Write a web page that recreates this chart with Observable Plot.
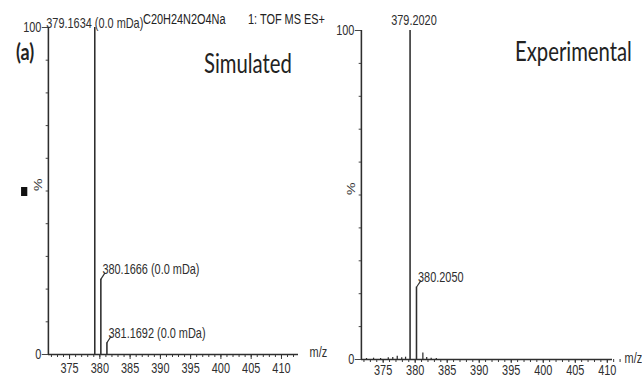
<!DOCTYPE html>
<html>
<head>
<meta charset="utf-8">
<script src="https://cdn.jsdelivr.net/npm/d3@7"></script>
<script src="https://cdn.jsdelivr.net/npm/@observablehq/plot@0.6"></script>
<style>
  html, body { margin: 0; padding: 0; background: #fff; overflow: hidden; }
  #page { position: relative; width: 642px; height: 380px; overflow: hidden; }
  /* the figure is laid out wide and then condensed horizontally */
  #wrap { position: absolute; left: 0; top: 0; height: 380px; transform-origin: 0 0; color: #222; }
  #wrap svg { position: absolute; left: 0; top: 0; }
  .t { position: absolute; white-space: nowrap; line-height: 1; }
  .small { font-family: "Liberation Sans", Arial, sans-serif; font-size: 14px; }
  .big { font-family: Lato, "Open Sans", sans-serif; font-size: 26px; }
</style>
</head>
<body>
<div id="page"><div id="wrap"></div></div>
<script>
// Simulated isotope pattern of C20H24N2O4Na
const simMz = [379.1634, 380.1666, 381.1692];
const simInt = [100, 23, 3.6];
const simLabels = ["379.1634 (0.0 mDa)", "380.1666 (0.0 mDa)", "381.1692 (0.0 mDa)"];

// Experimental TOF MS ES+ spectrum: labelled peaks
const expMz = [379.2020, 380.2050];
const expInt = [100, 22];
const expLabels = ["379.2020", "380.2050"];

// Experimental spectrum: small unlabelled peaks near the baseline
const expNoiseMz = [372.4, 373.5, 374.6, 375.8, 376.5, 377.2, 377.9, 378.5, 381.2, 381.8, 382.5, 383.3];
const expNoiseInt = [0.3, 0.4, 0.3, 0.5, 0.6, 1.0, 0.5, 0.7, 2.0, 0.6, 0.4, 0.3];

// Axis ticks
const xTicks = [375, 380, 385, 390, 395, 400, 405, 410];
const xMinorTicks = d3.range(372, 413);
const yTicks = [0, 100];
const yMinorTicks = [10, 20, 30, 40, 50, 60, 70, 80, 90];

const SX = 0.78;                 // horizontal condensing of the whole figure
const W = Math.round(642 / SX);  // logical width before condensing
const H = 380;
const lx = v => v / SX;          // screen x -> logical x

const wrap = document.getElementById("wrap");
wrap.style.width = W + "px";
wrap.style.transform = `scaleX(${SX})`;

const ink = "#2e2e2e";

function panel({mz, inten, labels, noiseMz = [], noiseInt = [], domain, frame, topDx = 0, topDy = 0, leadDy = -5, mzDx = 26, mzDy = -1, xPad = 3, xTick = 5}) {
  const peaks = mz.map((m, i) => ({mz: m, int: inten[i], label: labels[i]}));
  const noise = noiseMz.map((m, i) => ({mz: m, int: noiseInt[i]}));
  const [fl, fr, ft, fb] = frame;
  return Plot.plot({
    width: W,
    height: H,
    marginLeft: lx(fl),
    marginRight: W - lx(fr),
    marginTop: ft,
    marginBottom: H - fb,
    x: {domain},
    y: {domain: [0, 100]},
    style: {background: "transparent", fontFamily: "'Liberation Sans', Arial, sans-serif", fontSize: "14px", color: ink, overflow: "visible"},
    marks: [
      Plot.axisX({ticks: xMinorTicks, tickSize: 3, tickFormat: () => "", label: null, strokeWidth: 1.2}),
      Plot.axisX({ticks: xTicks, tickSize: xTick, tickPadding: xPad, label: null, strokeWidth: 1.2}),
      Plot.axisY({ticks: yMinorTicks, tickSize: 3, tickFormat: () => "", label: null}),
      Plot.axisY({ticks: yTicks, tickSize: 8, tickPadding: 1, label: null}),
      Plot.ruleY([0], {stroke: ink, strokeWidth: 1.3}),
      Plot.ruleX([domain[0]], {y1: 0, y2: 100, stroke: ink, strokeWidth: 2}),
      Plot.ruleX(noise, {x: "mz", y1: 0, y2: "int", stroke: ink, strokeWidth: 1.6}),
      Plot.ruleX(peaks, {x: "mz", y1: 0, y2: "int", stroke: ink, strokeWidth: 2}),
      Plot.text(peaks.slice(0, 1), {x: "mz", y: "int", text: "label", lineAnchor: "bottom", dx: topDx, dy: topDy, fill: ink}),
      Plot.link(peaks.slice(1), {x1: "mz", y1: "int", x2: d => d.mz + 0.7, y2: d => d.int + 2, stroke: ink, strokeWidth: 1.3}),
      Plot.text(peaks.slice(1), {x: "mz", y: "int", text: "label", textAnchor: "start", lineAnchor: "bottom", dx: 2, dy: leadDy, fill: ink}),
      Plot.text(["%"], {frameAnchor: "left", dx: -13, rotate: -90, fill: ink}),
      Plot.text(["m/z"], {frameAnchor: "bottom-right", textAnchor: "middle", lineAnchor: "middle", dx: mzDx, dy: mzDy, fill: ink})
    ]
  });
}

wrap.append(panel({
  mz: simMz, inten: simInt, labels: simLabels,
  domain: [371.5, 412.8],
  frame: [48, 298, 27, 354],
  topDy: 0, leadDy: -5, mzDx: lx(20), mzDy: -2, xPad: 4, xTick: 5
}));

wrap.append(panel({
  mz: expMz, inten: expInt, labels: expLabels,
  noiseMz: expNoiseMz, noiseInt: expNoiseInt,
  domain: [371.6, 410.8],
  frame: [361, 612, 30, 359],
  topDx: 5, topDy: -6, leadDy: -5, mzDx: lx(21), mzDy: -1, xPad: 2, xTick: 4
}));

// Headings and annotations
function label(text, cls, x, y, extra = {}) {
  const d = document.createElement("div");
  d.className = "t " + cls;
  d.textContent = text;
  d.style.left = lx(x) + "px";
  d.style.top = y + "px";
  Object.assign(d.style, extra);
  wrap.append(d);
}
label("C20H24N2O4Na", "small", 143, 12);
label("1: TOF MS ES+", "small", 248, 12);
label("(a)", "big", 16, 40, {fontWeight: "700", fontSize: "23px"});
label("Simulated", "big", 204, 50);
label("Experimental", "big", 515, 38);

// small filled marker beside the left axis
const sq = document.createElement("div");
Object.assign(sq.style, {position: "absolute", left: lx(21) + "px", top: "187px", width: lx(6) + "px", height: "9px", background: "#111"});
wrap.append(sq);
</script>
</body>
</html>
